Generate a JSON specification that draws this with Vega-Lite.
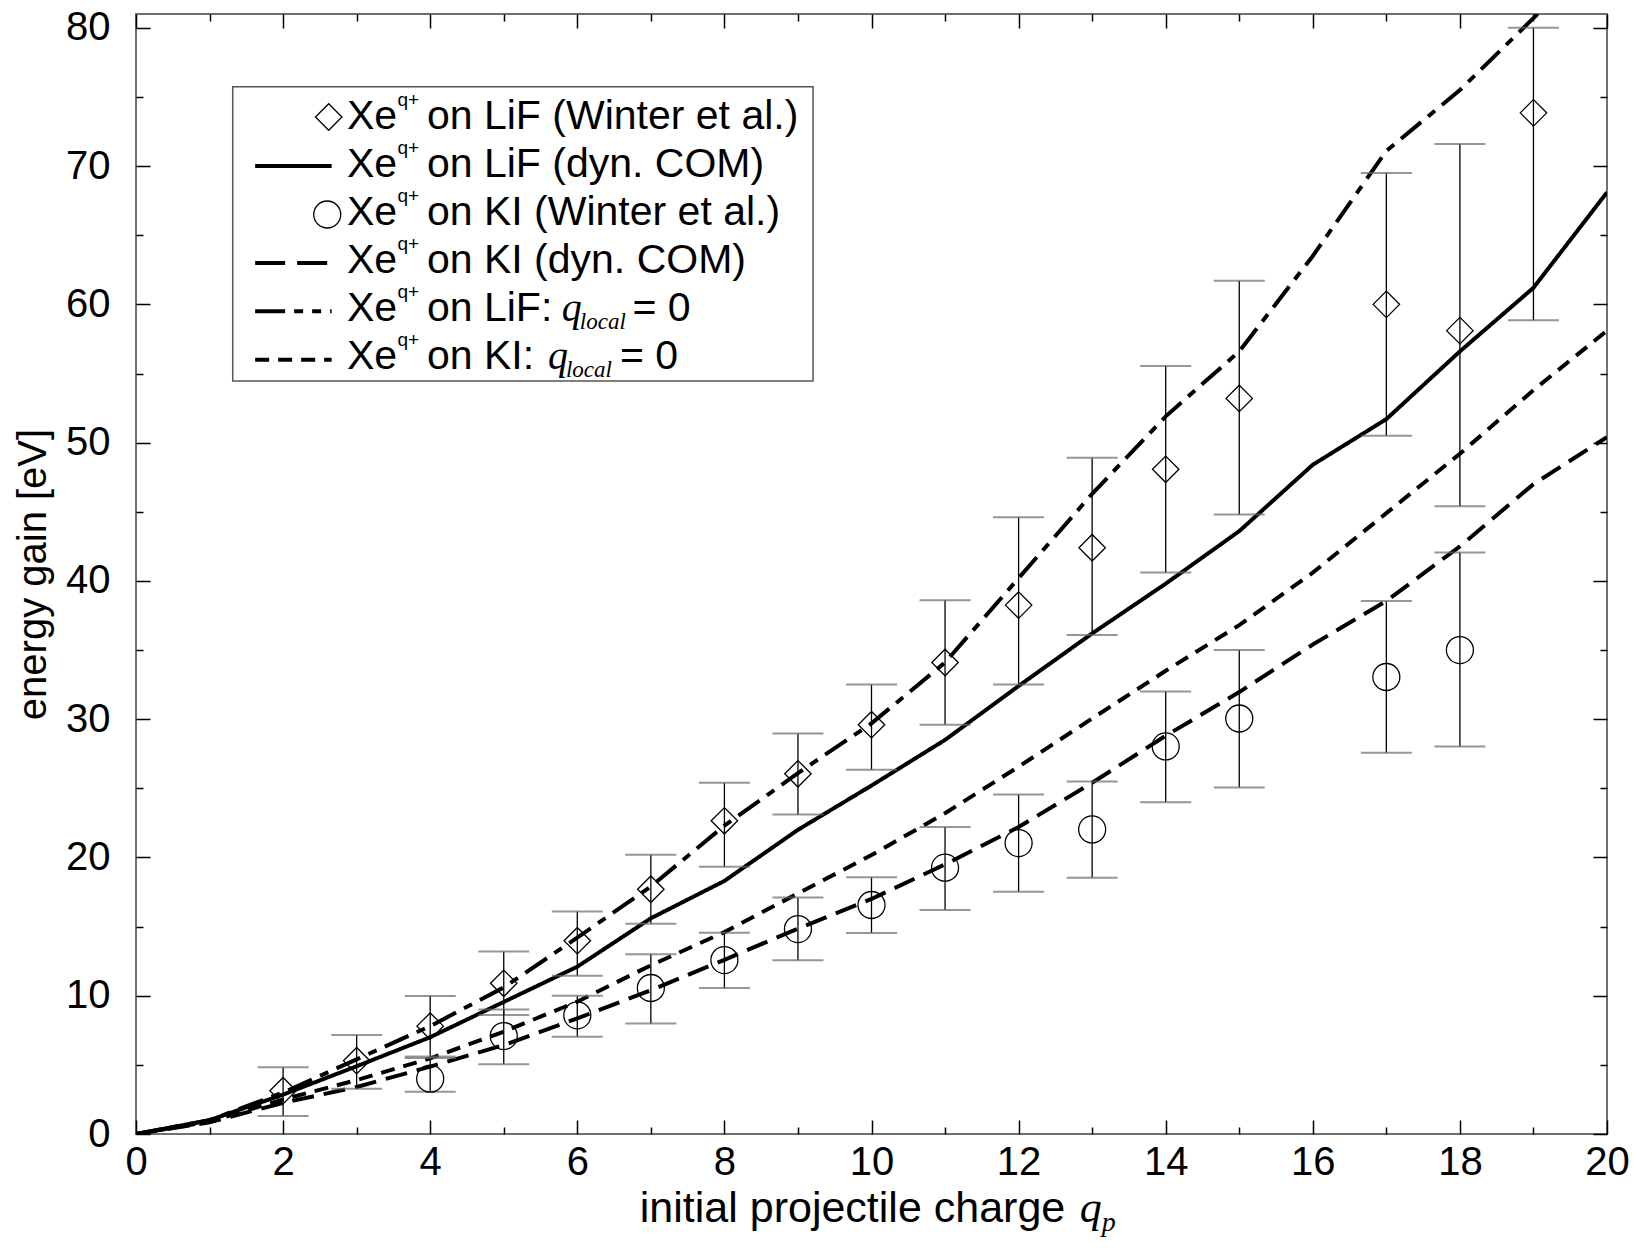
{
  "$schema": "https://vega.github.io/schema/vega-lite/v6.json",
  "width": 1471,
  "height": 1120,
  "autosize": {"type": "none"},
  "padding": {"left": 136, "top": 14, "right": 30, "bottom": 116},
  "background": "white",
  "config": {
    "view": {"stroke": "#707070", "strokeWidth": 2},
    "font": "Liberation Sans",
    "axis": {"grid": false, "domain": false, "tickColor": "black", "tickWidth": 1.5, "labelFont": "Liberation Sans", "labelFontSize": 40, "labelColor": "black", "titleFont": "Liberation Sans", "titleFontSize": 40, "titleFontWeight": "normal", "titleColor": "black", "labelFlush": false, "labelOverlap": false}
  },
  "datasets": {
    "th": [
      {"s": "LiF_COM", "q": 0, "E": 0}, {"s": "LiF_COM", "q": 1, "E": 1.0}, {"s": "LiF_COM", "q": 2, "E": 2.85}, {"s": "LiF_COM", "q": 3, "E": 4.9}, {"s": "LiF_COM", "q": 4, "E": 7.0}, {"s": "LiF_COM", "q": 5, "E": 9.55}, {"s": "LiF_COM", "q": 6, "E": 12.1}, {"s": "LiF_COM", "q": 7, "E": 15.6}, {"s": "LiF_COM", "q": 8, "E": 18.3}, {"s": "LiF_COM", "q": 9, "E": 22.0}, {"s": "LiF_COM", "q": 10, "E": 25.2}, {"s": "LiF_COM", "q": 11, "E": 28.5}, {"s": "LiF_COM", "q": 12, "E": 32.4}, {"s": "LiF_COM", "q": 13, "E": 36.2}, {"s": "LiF_COM", "q": 14, "E": 39.8}, {"s": "LiF_COM", "q": 15, "E": 43.6}, {"s": "LiF_COM", "q": 16, "E": 48.4}, {"s": "LiF_COM", "q": 17, "E": 51.7}, {"s": "LiF_COM", "q": 18, "E": 56.6}, {"s": "LiF_COM", "q": 19, "E": 61.2}, {"s": "LiF_COM", "q": 20, "E": 68.1},
      {"s": "KI_COM", "q": 0, "E": 0}, {"s": "KI_COM", "q": 1, "E": 0.85}, {"s": "KI_COM", "q": 2, "E": 2.25}, {"s": "KI_COM", "q": 3, "E": 3.4}, {"s": "KI_COM", "q": 4, "E": 4.87}, {"s": "KI_COM", "q": 5, "E": 6.43}, {"s": "KI_COM", "q": 6, "E": 8.36}, {"s": "KI_COM", "q": 7, "E": 10.4}, {"s": "KI_COM", "q": 8, "E": 12.6}, {"s": "KI_COM", "q": 9, "E": 14.85}, {"s": "KI_COM", "q": 10, "E": 17.0}, {"s": "KI_COM", "q": 11, "E": 19.5}, {"s": "KI_COM", "q": 12, "E": 22.2}, {"s": "KI_COM", "q": 13, "E": 25.4}, {"s": "KI_COM", "q": 14, "E": 28.8}, {"s": "KI_COM", "q": 15, "E": 31.96}, {"s": "KI_COM", "q": 16, "E": 35.4}, {"s": "KI_COM", "q": 17, "E": 38.55}, {"s": "KI_COM", "q": 18, "E": 42.5}, {"s": "KI_COM", "q": 19, "E": 47.0}, {"s": "KI_COM", "q": 20, "E": 50.4},
      {"s": "LiF_q0", "q": 0, "E": 0}, {"s": "LiF_q0", "q": 1, "E": 1.0}, {"s": "LiF_q0", "q": 2, "E": 3.0}, {"s": "LiF_q0", "q": 3, "E": 5.4}, {"s": "LiF_q0", "q": 4, "E": 7.8}, {"s": "LiF_q0", "q": 5, "E": 10.6}, {"s": "LiF_q0", "q": 6, "E": 14.2}, {"s": "LiF_q0", "q": 7, "E": 17.9}, {"s": "LiF_q0", "q": 8, "E": 22.3}, {"s": "LiF_q0", "q": 9, "E": 26.1}, {"s": "LiF_q0", "q": 10, "E": 29.7}, {"s": "LiF_q0", "q": 11, "E": 34.1}, {"s": "LiF_q0", "q": 12, "E": 40.2}, {"s": "LiF_q0", "q": 13, "E": 46.3}, {"s": "LiF_q0", "q": 14, "E": 51.9}, {"s": "LiF_q0", "q": 15, "E": 56.6}, {"s": "LiF_q0", "q": 16, "E": 63.5}, {"s": "LiF_q0", "q": 17, "E": 71.1}, {"s": "LiF_q0", "q": 18, "E": 75.5}, {"s": "LiF_q0", "q": 19, "E": 80.7}, {"s": "LiF_q0", "q": 20, "E": 86.0},
      {"s": "KI_q0", "q": 0, "E": 0}, {"s": "KI_q0", "q": 1, "E": 0.9}, {"s": "KI_q0", "q": 2, "E": 2.5}, {"s": "KI_q0", "q": 3, "E": 3.9}, {"s": "KI_q0", "q": 4, "E": 5.47}, {"s": "KI_q0", "q": 5, "E": 7.4}, {"s": "KI_q0", "q": 6, "E": 9.57}, {"s": "KI_q0", "q": 7, "E": 12.2}, {"s": "KI_q0", "q": 8, "E": 14.6}, {"s": "KI_q0", "q": 9, "E": 17.4}, {"s": "KI_q0", "q": 10, "E": 20.17}, {"s": "KI_q0", "q": 11, "E": 23.2}, {"s": "KI_q0", "q": 12, "E": 26.56}, {"s": "KI_q0", "q": 13, "E": 30.05}, {"s": "KI_q0", "q": 14, "E": 33.5}, {"s": "KI_q0", "q": 15, "E": 36.8}, {"s": "KI_q0", "q": 16, "E": 40.6}, {"s": "KI_q0", "q": 17, "E": 44.9}, {"s": "KI_q0", "q": 18, "E": 49.2}, {"s": "KI_q0", "q": 19, "E": 53.8}, {"s": "KI_q0", "q": 20, "E": 58.1}
    ],
    "lif": [
      {"q": 2, "E": 3.13, "lo": 1.3, "hi": 4.83}, {"q": 3, "E": 5.3, "lo": 3.28, "hi": 7.16}, {"q": 4, "E": 7.8, "lo": 5.6, "hi": 9.98}, {"q": 5, "E": 10.9, "lo": 8.6, "hi": 13.2}, {"q": 6, "E": 13.98, "lo": 11.45, "hi": 16.1}, {"q": 7, "E": 17.7, "lo": 15.2, "hi": 20.2}, {"q": 8, "E": 22.65, "lo": 19.33, "hi": 25.4}, {"q": 9, "E": 26.05, "lo": 23.1, "hi": 28.97}, {"q": 10, "E": 29.6, "lo": 26.35, "hi": 32.5}, {"q": 11, "E": 34.1, "lo": 29.6, "hi": 38.6}, {"q": 12, "E": 38.25, "lo": 32.5, "hi": 44.6}, {"q": 13, "E": 42.4, "lo": 36.08, "hi": 48.9}, {"q": 14, "E": 48.07, "lo": 40.6, "hi": 55.55}, {"q": 15, "E": 53.2, "lo": 44.8, "hi": 61.7}, {"q": 17, "E": 60.0, "lo": 50.5, "hi": 69.5}, {"q": 18, "E": 58.1, "lo": 45.4, "hi": 71.6}, {"q": 19, "E": 73.85, "lo": 58.85, "hi": 80.0}
    ],
    "ki": [
      {"q": 4, "E": 4.0, "lo": 3.06, "hi": 5.5}, {"q": 5, "E": 7.08, "lo": 5.04, "hi": 9.0}, {"q": 6, "E": 8.58, "lo": 7.04, "hi": 10.0}, {"q": 7, "E": 10.56, "lo": 8.0, "hi": 13.0}, {"q": 8, "E": 12.58, "lo": 10.55, "hi": 14.55}, {"q": 9, "E": 14.82, "lo": 12.56, "hi": 17.1}, {"q": 10, "E": 16.56, "lo": 14.53, "hi": 18.56}, {"q": 11, "E": 19.26, "lo": 16.2, "hi": 22.2}, {"q": 12, "E": 21.04, "lo": 17.52, "hi": 24.56}, {"q": 13, "E": 22.03, "lo": 18.54, "hi": 25.5}, {"q": 14, "E": 28.03, "lo": 24.0, "hi": 32.0}, {"q": 15, "E": 30.05, "lo": 25.06, "hi": 35.0}, {"q": 17, "E": 33.05, "lo": 27.57, "hi": 38.55}, {"q": 18, "E": 35.0, "lo": 28.03, "hi": 42.05}
    ]
  },
  "resolve": {"axis": {"x": "independent", "y": "independent"}},
  "layer": [
    {
      "layer": [
        {
          "data": {"name": "th"},
          "mark": {"type": "line", "color": "black", "strokeWidth": 4, "clip": true},
          "encoding": {
            "x": {"field": "q", "type": "quantitative", "scale": {"domain": [0, 20], "nice": false}, "axis": null},
            "y": {"field": "E", "type": "quantitative", "scale": {"domain": [0, 81], "nice": false}, "axis": null},
            "strokeDash": {"field": "s", "type": "nominal", "scale": {"domain": ["LiF_COM", "KI_COM", "LiF_q0", "KI_q0"], "range": [[1, 0], [22, 10], [26, 9, 9, 9], [14, 9]]}, "legend": null},
            "detail": {"field": "s"}
          }
        },
        {
          "data": {"name": "lif"},
          "mark": {"type": "rule", "color": "black", "strokeWidth": 1.3},
          "encoding": {
            "x": {"field": "q", "type": "quantitative", "scale": {"domain": [0, 20], "nice": false}, "axis": null},
            "y": {"field": "lo", "type": "quantitative", "scale": {"domain": [0, 81], "nice": false}, "axis": null},
            "y2": {"field": "hi"}
          }
        },
        {
          "data": {"name": "lif"},
          "mark": {"type": "tick", "orient": "horizontal", "size": 51, "thickness": 2, "color": "#6a6a6a"},
          "encoding": {
            "x": {"field": "q", "type": "quantitative", "scale": {"domain": [0, 20], "nice": false}, "axis": null},
            "y": {"field": "lo", "type": "quantitative", "scale": {"domain": [0, 81], "nice": false}, "axis": null}
          }
        },
        {
          "data": {"name": "lif"},
          "mark": {"type": "tick", "orient": "horizontal", "size": 51, "thickness": 2, "color": "#6a6a6a"},
          "encoding": {
            "x": {"field": "q", "type": "quantitative", "scale": {"domain": [0, 20], "nice": false}, "axis": null},
            "y": {"field": "hi", "type": "quantitative", "scale": {"domain": [0, 81], "nice": false}, "axis": null}
          }
        },
        {
          "data": {"name": "lif"},
          "mark": {"type": "point", "shape": "diamond", "size": 700, "filled": false, "stroke": "black", "strokeWidth": 1.3, "opacity": 1},
          "encoding": {
            "x": {"field": "q", "type": "quantitative", "scale": {"domain": [0, 20], "nice": false}, "axis": null},
            "y": {"field": "E", "type": "quantitative", "scale": {"domain": [0, 81], "nice": false}, "axis": null}
          }
        },
        {
          "data": {"name": "ki"},
          "mark": {"type": "rule", "color": "black", "strokeWidth": 1.3},
          "encoding": {
            "x": {"field": "q", "type": "quantitative", "scale": {"domain": [0, 20], "nice": false}, "axis": null},
            "y": {"field": "lo", "type": "quantitative", "scale": {"domain": [0, 81], "nice": false}, "axis": null},
            "y2": {"field": "hi"}
          }
        },
        {
          "data": {"name": "ki"},
          "mark": {"type": "tick", "orient": "horizontal", "size": 51, "thickness": 2, "color": "#6a6a6a"},
          "encoding": {
            "x": {"field": "q", "type": "quantitative", "scale": {"domain": [0, 20], "nice": false}, "axis": null},
            "y": {"field": "lo", "type": "quantitative", "scale": {"domain": [0, 81], "nice": false}, "axis": null}
          }
        },
        {
          "data": {"name": "ki"},
          "mark": {"type": "tick", "orient": "horizontal", "size": 51, "thickness": 2, "color": "#6a6a6a"},
          "encoding": {
            "x": {"field": "q", "type": "quantitative", "scale": {"domain": [0, 20], "nice": false}, "axis": null},
            "y": {"field": "hi", "type": "quantitative", "scale": {"domain": [0, 81], "nice": false}, "axis": null}
          }
        },
        {
          "data": {"name": "ki"},
          "mark": {"type": "point", "shape": "circle", "size": 729, "filled": false, "stroke": "black", "strokeWidth": 1.3, "opacity": 1},
          "encoding": {
            "x": {"field": "q", "type": "quantitative", "scale": {"domain": [0, 20], "nice": false}, "axis": null},
            "y": {"field": "E", "type": "quantitative", "scale": {"domain": [0, 81], "nice": false}, "axis": null}
          }
        }
      ]
    },
    {
      "data": {"name": "th"},
      "mark": {"type": "point", "opacity": 0},
      "encoding": {
        "x": {"field": "q", "type": "quantitative", "scale": {"domain": [0, 20], "nice": false}, "axis": {"orient": "bottom", "values": [0, 2, 4, 6, 8, 10, 12, 14, 16, 18, 20], "tickSize": -14, "labelPadding": 22, "title": null}},
        "y": {"field": "E", "type": "quantitative", "scale": {"domain": [0, 81], "nice": false}, "axis": {"orient": "left", "values": [0, 10, 20, 30, 40, 50, 60, 70, 80], "tickSize": -14, "labelPadding": 40, "title": "energy gain [eV]", "titlePadding": 12}}
      }
    },
    {
      "data": {"name": "th"},
      "mark": {"type": "point", "opacity": 0},
      "encoding": {
        "x": {"field": "q", "type": "quantitative", "scale": {"domain": [0, 20], "nice": false}, "axis": {"orient": "bottom", "values": [1, 3, 5, 7, 9, 11, 13, 15, 17, 19], "tickSize": -7, "labels": false, "title": null}},
        "y": {"field": "E", "type": "quantitative", "scale": {"domain": [0, 81], "nice": false}, "axis": {"orient": "left", "values": [5, 15, 25, 35, 45, 55, 65, 75], "tickSize": -7, "labels": false, "title": null}}
      }
    },
    {
      "data": {"name": "th"},
      "mark": {"type": "point", "opacity": 0},
      "encoding": {
        "x": {"field": "q", "type": "quantitative", "scale": {"domain": [0, 20], "nice": false}, "axis": {"orient": "top", "values": [0, 2, 4, 6, 8, 10, 12, 14, 16, 18, 20], "tickSize": -14, "labels": false, "title": null}},
        "y": {"field": "E", "type": "quantitative", "scale": {"domain": [0, 81], "nice": false}, "axis": {"orient": "right", "values": [0, 10, 20, 30, 40, 50, 60, 70, 80], "tickSize": -14, "labels": false, "title": null}}
      }
    },
    {
      "data": {"name": "th"},
      "mark": {"type": "point", "opacity": 0},
      "encoding": {
        "x": {"field": "q", "type": "quantitative", "scale": {"domain": [0, 20], "nice": false}, "axis": {"orient": "top", "values": [1, 3, 5, 7, 9, 11, 13, 15, 17, 19], "tickSize": -7, "labels": false, "title": null}},
        "y": {"field": "E", "type": "quantitative", "scale": {"domain": [0, 81], "nice": false}, "axis": {"orient": "right", "values": [5, 15, 25, 35, 45, 55, 65, 75], "tickSize": -7, "labels": false, "title": null}}
      }
    },
    {
      "data": {"values": [{}]},
      "layer": [
        {"mark": {"type": "rect", "fill": "white", "stroke": "#555555", "strokeWidth": 1.5},
         "encoding": {"x": {"datum": 1.315, "scale": {"domain": [0, 20], "nice": false}, "axis": null}, "x2": {"datum": 9.205}, "y": {"datum": 75.73, "scale": {"domain": [0, 81], "nice": false}, "axis": null}, "y2": {"datum": 54.45}}},
        {"mark": {"type": "point", "shape": "diamond", "size": 700, "filled": false, "stroke": "black", "strokeWidth": 1.3, "opacity": 1},
         "encoding": {"x": {"datum": 2.62, "scale": {"domain": [0, 20], "nice": false}, "axis": null}, "y": {"datum": 73.55, "scale": {"domain": [0, 81], "nice": false}, "axis": null}}},
        {"mark": {"type": "point", "shape": "circle", "size": 729, "filled": false, "stroke": "black", "strokeWidth": 1.3, "opacity": 1},
         "encoding": {"x": {"datum": 2.6, "scale": {"domain": [0, 20], "nice": false}, "axis": null}, "y": {"datum": 66.5, "scale": {"domain": [0, 81], "nice": false}, "axis": null}}},
        {"mark": {"type": "rule", "color": "black", "strokeWidth": 4},
         "encoding": {"x": {"datum": 1.62, "scale": {"domain": [0, 20], "nice": false}, "axis": null}, "x2": {"datum": 2.66}, "y": {"datum": 70.0, "scale": {"domain": [0, 81], "nice": false}, "axis": null}}},
        {"mark": {"type": "rule", "color": "black", "strokeWidth": 4, "strokeDash": [30, 12]},
         "encoding": {"x": {"datum": 1.62, "scale": {"domain": [0, 20], "nice": false}, "axis": null}, "x2": {"datum": 2.66}, "y": {"datum": 63.0, "scale": {"domain": [0, 81], "nice": false}, "axis": null}}},
        {"mark": {"type": "rule", "color": "black", "strokeWidth": 4, "strokeDash": [30, 9, 9, 9, 9, 9]},
         "encoding": {"x": {"datum": 1.62, "scale": {"domain": [0, 20], "nice": false}, "axis": null}, "x2": {"datum": 2.66}, "y": {"datum": 59.5, "scale": {"domain": [0, 81], "nice": false}, "axis": null}}},
        {"mark": {"type": "rule", "color": "black", "strokeWidth": 4, "strokeDash": [14, 9]},
         "encoding": {"x": {"datum": 1.62, "scale": {"domain": [0, 20], "nice": false}, "axis": null}, "x2": {"datum": 2.66}, "y": {"datum": 56.0, "scale": {"domain": [0, 81], "nice": false}, "axis": null}}},

        {"mark": {"type": "text", "text": "Xe", "align": "left", "baseline": "alphabetic", "fontSize": 41, "font": "Liberation Sans", "color": "black"},
         "encoding": {"x": {"datum": 2.868, "scale": {"domain": [0, 20], "nice": false}, "axis": null}, "y": {"datum": 72.67, "scale": {"domain": [0, 81], "nice": false}, "axis": null}}},
        {"mark": {"type": "text", "text": "q+", "align": "left", "baseline": "alphabetic", "fontSize": 19, "dy": -23, "font": "Liberation Sans", "color": "black"},
         "encoding": {"x": {"datum": 3.556, "scale": {"domain": [0, 20], "nice": false}, "axis": null}, "y": {"datum": 72.67, "scale": {"domain": [0, 81], "nice": false}, "axis": null}}},
        {"mark": {"type": "text", "text": "on LiF (Winter et al.)", "align": "left", "baseline": "alphabetic", "fontSize": 41, "font": "Liberation Sans", "color": "black"},
         "encoding": {"x": {"datum": 3.956, "scale": {"domain": [0, 20], "nice": false}, "axis": null}, "y": {"datum": 72.67, "scale": {"domain": [0, 81], "nice": false}, "axis": null}}},

        {"mark": {"type": "text", "text": "Xe", "align": "left", "baseline": "alphabetic", "fontSize": 41, "font": "Liberation Sans", "color": "black"},
         "encoding": {"x": {"datum": 2.868, "scale": {"domain": [0, 20], "nice": false}, "axis": null}, "y": {"datum": 69.2, "scale": {"domain": [0, 81], "nice": false}, "axis": null}}},
        {"mark": {"type": "text", "text": "q+", "align": "left", "baseline": "alphabetic", "fontSize": 19, "dy": -23, "font": "Liberation Sans", "color": "black"},
         "encoding": {"x": {"datum": 3.556, "scale": {"domain": [0, 20], "nice": false}, "axis": null}, "y": {"datum": 69.2, "scale": {"domain": [0, 81], "nice": false}, "axis": null}}},
        {"mark": {"type": "text", "text": "on LiF (dyn. COM)", "align": "left", "baseline": "alphabetic", "fontSize": 41, "font": "Liberation Sans", "color": "black"},
         "encoding": {"x": {"datum": 3.956, "scale": {"domain": [0, 20], "nice": false}, "axis": null}, "y": {"datum": 69.2, "scale": {"domain": [0, 81], "nice": false}, "axis": null}}},

        {"mark": {"type": "text", "text": "Xe", "align": "left", "baseline": "alphabetic", "fontSize": 41, "font": "Liberation Sans", "color": "black"},
         "encoding": {"x": {"datum": 2.868, "scale": {"domain": [0, 20], "nice": false}, "axis": null}, "y": {"datum": 65.73, "scale": {"domain": [0, 81], "nice": false}, "axis": null}}},
        {"mark": {"type": "text", "text": "q+", "align": "left", "baseline": "alphabetic", "fontSize": 19, "dy": -23, "font": "Liberation Sans", "color": "black"},
         "encoding": {"x": {"datum": 3.556, "scale": {"domain": [0, 20], "nice": false}, "axis": null}, "y": {"datum": 65.73, "scale": {"domain": [0, 81], "nice": false}, "axis": null}}},
        {"mark": {"type": "text", "text": "on KI (Winter et al.)", "align": "left", "baseline": "alphabetic", "fontSize": 41, "font": "Liberation Sans", "color": "black"},
         "encoding": {"x": {"datum": 3.956, "scale": {"domain": [0, 20], "nice": false}, "axis": null}, "y": {"datum": 65.73, "scale": {"domain": [0, 81], "nice": false}, "axis": null}}},

        {"mark": {"type": "text", "text": "Xe", "align": "left", "baseline": "alphabetic", "fontSize": 41, "font": "Liberation Sans", "color": "black"},
         "encoding": {"x": {"datum": 2.868, "scale": {"domain": [0, 20], "nice": false}, "axis": null}, "y": {"datum": 62.26, "scale": {"domain": [0, 81], "nice": false}, "axis": null}}},
        {"mark": {"type": "text", "text": "q+", "align": "left", "baseline": "alphabetic", "fontSize": 19, "dy": -23, "font": "Liberation Sans", "color": "black"},
         "encoding": {"x": {"datum": 3.556, "scale": {"domain": [0, 20], "nice": false}, "axis": null}, "y": {"datum": 62.26, "scale": {"domain": [0, 81], "nice": false}, "axis": null}}},
        {"mark": {"type": "text", "text": "on KI (dyn. COM)", "align": "left", "baseline": "alphabetic", "fontSize": 41, "font": "Liberation Sans", "color": "black"},
         "encoding": {"x": {"datum": 3.956, "scale": {"domain": [0, 20], "nice": false}, "axis": null}, "y": {"datum": 62.26, "scale": {"domain": [0, 81], "nice": false}, "axis": null}}},

        {"mark": {"type": "text", "text": "Xe", "align": "left", "baseline": "alphabetic", "fontSize": 41, "font": "Liberation Sans", "color": "black"},
         "encoding": {"x": {"datum": 2.868, "scale": {"domain": [0, 20], "nice": false}, "axis": null}, "y": {"datum": 58.79, "scale": {"domain": [0, 81], "nice": false}, "axis": null}}},
        {"mark": {"type": "text", "text": "q+", "align": "left", "baseline": "alphabetic", "fontSize": 19, "dy": -23, "font": "Liberation Sans", "color": "black"},
         "encoding": {"x": {"datum": 3.556, "scale": {"domain": [0, 20], "nice": false}, "axis": null}, "y": {"datum": 58.79, "scale": {"domain": [0, 81], "nice": false}, "axis": null}}},
        {"mark": {"type": "text", "text": "on LiF:", "align": "left", "baseline": "alphabetic", "fontSize": 41, "font": "Liberation Sans", "color": "black"},
         "encoding": {"x": {"datum": 3.956, "scale": {"domain": [0, 20], "nice": false}, "axis": null}, "y": {"datum": 58.79, "scale": {"domain": [0, 81], "nice": false}, "axis": null}}},
        {"mark": {"type": "text", "text": "q", "align": "left", "baseline": "alphabetic", "fontSize": 40, "font": "Liberation Serif", "fontStyle": "italic", "color": "black"},
         "encoding": {"x": {"datum": 5.79, "scale": {"domain": [0, 20], "nice": false}, "axis": null}, "y": {"datum": 58.79, "scale": {"domain": [0, 81], "nice": false}, "axis": null}}},
        {"mark": {"type": "text", "text": "local", "align": "left", "baseline": "alphabetic", "fontSize": 23, "dy": 8, "font": "Liberation Serif", "fontStyle": "italic", "color": "black"},
         "encoding": {"x": {"datum": 6.035, "scale": {"domain": [0, 20], "nice": false}, "axis": null}, "y": {"datum": 58.79, "scale": {"domain": [0, 81], "nice": false}, "axis": null}}},
        {"mark": {"type": "text", "text": "= 0", "align": "left", "baseline": "alphabetic", "fontSize": 41, "font": "Liberation Sans", "color": "black"},
         "encoding": {"x": {"datum": 6.75, "scale": {"domain": [0, 20], "nice": false}, "axis": null}, "y": {"datum": 58.79, "scale": {"domain": [0, 81], "nice": false}, "axis": null}}},

        {"mark": {"type": "text", "text": "Xe", "align": "left", "baseline": "alphabetic", "fontSize": 41, "font": "Liberation Sans", "color": "black"},
         "encoding": {"x": {"datum": 2.868, "scale": {"domain": [0, 20], "nice": false}, "axis": null}, "y": {"datum": 55.31, "scale": {"domain": [0, 81], "nice": false}, "axis": null}}},
        {"mark": {"type": "text", "text": "q+", "align": "left", "baseline": "alphabetic", "fontSize": 19, "dy": -23, "font": "Liberation Sans", "color": "black"},
         "encoding": {"x": {"datum": 3.556, "scale": {"domain": [0, 20], "nice": false}, "axis": null}, "y": {"datum": 55.31, "scale": {"domain": [0, 81], "nice": false}, "axis": null}}},
        {"mark": {"type": "text", "text": "on KI:", "align": "left", "baseline": "alphabetic", "fontSize": 41, "font": "Liberation Sans", "color": "black"},
         "encoding": {"x": {"datum": 3.956, "scale": {"domain": [0, 20], "nice": false}, "axis": null}, "y": {"datum": 55.31, "scale": {"domain": [0, 81], "nice": false}, "axis": null}}},
        {"mark": {"type": "text", "text": "q", "align": "left", "baseline": "alphabetic", "fontSize": 40, "font": "Liberation Serif", "fontStyle": "italic", "color": "black"},
         "encoding": {"x": {"datum": 5.602, "scale": {"domain": [0, 20], "nice": false}, "axis": null}, "y": {"datum": 55.31, "scale": {"domain": [0, 81], "nice": false}, "axis": null}}},
        {"mark": {"type": "text", "text": "local", "align": "left", "baseline": "alphabetic", "fontSize": 23, "dy": 8, "font": "Liberation Serif", "fontStyle": "italic", "color": "black"},
         "encoding": {"x": {"datum": 5.846, "scale": {"domain": [0, 20], "nice": false}, "axis": null}, "y": {"datum": 55.31, "scale": {"domain": [0, 81], "nice": false}, "axis": null}}},
        {"mark": {"type": "text", "text": "= 0", "align": "left", "baseline": "alphabetic", "fontSize": 41, "font": "Liberation Sans", "color": "black"},
         "encoding": {"x": {"datum": 6.58, "scale": {"domain": [0, 20], "nice": false}, "axis": null}, "y": {"datum": 55.31, "scale": {"domain": [0, 81], "nice": false}, "axis": null}}},

        {"mark": {"type": "text", "text": "initial projectile charge", "align": "left", "baseline": "alphabetic", "fontSize": 43, "font": "Liberation Sans", "color": "black"},
         "encoding": {"x": {"datum": 6.85, "scale": {"domain": [0, 20], "nice": false}, "axis": null}, "y": {"datum": -6.36, "scale": {"domain": [0, 81], "nice": false}, "axis": null}}},
        {"mark": {"type": "text", "text": "q", "align": "left", "baseline": "alphabetic", "fontSize": 44, "font": "Liberation Serif", "fontStyle": "italic", "color": "black"},
         "encoding": {"x": {"datum": 12.83, "scale": {"domain": [0, 20], "nice": false}, "axis": null}, "y": {"datum": -6.36, "scale": {"domain": [0, 81], "nice": false}, "axis": null}}},
        {"mark": {"type": "text", "text": "p", "align": "left", "baseline": "alphabetic", "fontSize": 28, "dy": 9, "font": "Liberation Serif", "fontStyle": "italic", "color": "black"},
         "encoding": {"x": {"datum": 13.13, "scale": {"domain": [0, 20], "nice": false}, "axis": null}, "y": {"datum": -6.36, "scale": {"domain": [0, 81], "nice": false}, "axis": null}}}
      ]
    }
  ]
}
